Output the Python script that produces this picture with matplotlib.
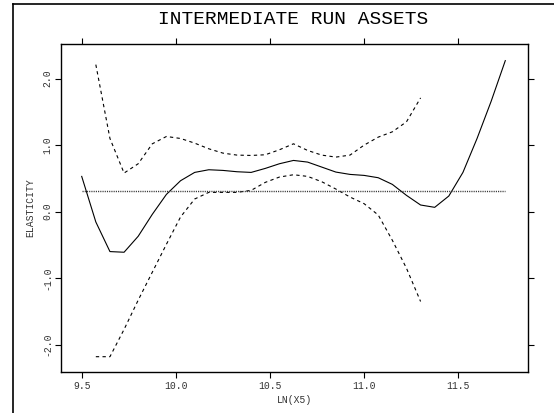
import matplotlib
matplotlib.use("Agg")
from matplotlib import pyplot as plt
from matplotlib.lines import Line2D

# grid of ln(x5) values for the estimate
x_est = [9.5, 9.575, 9.65, 9.725, 9.8, 9.875, 9.95, 10.025, 10.1, 10.175,
         10.25, 10.325, 10.4, 10.475, 10.55, 10.625, 10.7, 10.775, 10.85,
         10.925, 11.0, 11.075, 11.15, 11.225, 11.3, 11.375, 11.45, 11.525,
         11.6, 11.675, 11.75]
elast = [0.53, -0.155, -0.60, -0.61, -0.37, -0.04, 0.26, 0.465, 0.59, 0.63,
         0.62, 0.60, 0.59, 0.65, 0.72, 0.77, 0.745, 0.67, 0.595,
         0.56, 0.545, 0.51, 0.41, 0.245, 0.10, 0.065, 0.235, 0.59,
         1.10, 1.66, 2.27]

# confidence band
x_band = [9.575, 9.65, 9.725, 9.8, 9.875, 9.95, 10.025, 10.1, 10.175,
          10.25, 10.325, 10.4, 10.475, 10.55, 10.625, 10.7, 10.775, 10.85,
          10.925, 11.0, 11.075, 11.15, 11.225, 11.3]
upper = [2.21, 1.10, 0.58, 0.72, 1.02, 1.13, 1.10, 1.03, 0.945,
         0.88, 0.85, 0.845, 0.855, 0.93, 1.02, 0.92, 0.85, 0.82,
         0.85, 1.00, 1.12, 1.20, 1.35, 1.71]
lower = [-2.18, -2.18, -1.77, -1.33, -0.91, -0.49, -0.08, 0.19, 0.29,
         0.29, 0.29, 0.32, 0.44, 0.52, 0.555, 0.53, 0.45, 0.34,
         0.22, 0.12, -0.05, -0.43, -0.85, -1.35]

# mean elasticity line
x_mean = [9.5, 11.75]
mean_el = [0.305, 0.305]

xticks = [9.5, 10.0, 10.5, 11.0, 11.5]
xticklabels = ["9.5", "10.0", "10.5", "11.0", "11.5"]
yticks = [-2.0, -1.0, 0.0, 1.0, 2.0]
yticklabels = ["-2.0", "-1.0", "0.0", "1.0", "2.0"]

mono = "Liberation Mono"

fig = plt.figure(figsize=(5.54, 4.13), dpi=100)
ax = fig.add_axes([61 / 554, 41 / 413, 466.7 / 554, 328 / 413])

ax.plot(x_est, elast, color="black", lw=0.8)
ax.plot(x_band, upper, color="black", lw=0.8, dashes=(3, 3))
ax.plot(x_band, lower, color="black", lw=0.8, dashes=(3, 3))
ax.plot(x_mean, mean_el, color="#333333", lw=1.0, dashes=(0.8, 0.8))

ax.set_xlim(9.39, 11.869)
ax.set_ylim(-2.41, 2.52)

ax.set_xticks(xticks)
ax.set_xticklabels(xticklabels, fontfamily=mono, fontsize=7, color="#333333")
ax.set_yticks(yticks)
ax.set_yticklabels(yticklabels, fontfamily=mono, fontsize=7, color="#333333",
                   rotation=90, va="center")
ax.tick_params(direction="out", length=4.3, width=0.8, top=True, right=True,
               labeltop=False, labelright=False, pad=2)

for s in ax.spines.values():
    s.set_linewidth(1.0)
    s.set_color("black")

ax.set_xlabel("LN(X5)", fontfamily=mono, fontsize=7, color="#333333", labelpad=3)
ax.set_ylabel("ELASTICITY", fontfamily=mono, fontsize=7, color="#333333", labelpad=5)

fig.text(293 / 554, 1 - 20 / 413, "INTERMEDIATE RUN ASSETS", fontfamily=mono,
         fontsize=14, ha="center", va="center")

# outer frame (left and top edges visible)
fig.add_artist(Line2D([12.5 / 554, 12.5 / 554], [0, 1 - 3.5 / 413],
                      transform=fig.transFigure, color="black", lw=1.2))
fig.add_artist(Line2D([12.5 / 554, 1], [1 - 3.5 / 413, 1 - 3.5 / 413],
                      transform=fig.transFigure, color="black", lw=1.2))

fig.savefig("out.png", dpi=100)
